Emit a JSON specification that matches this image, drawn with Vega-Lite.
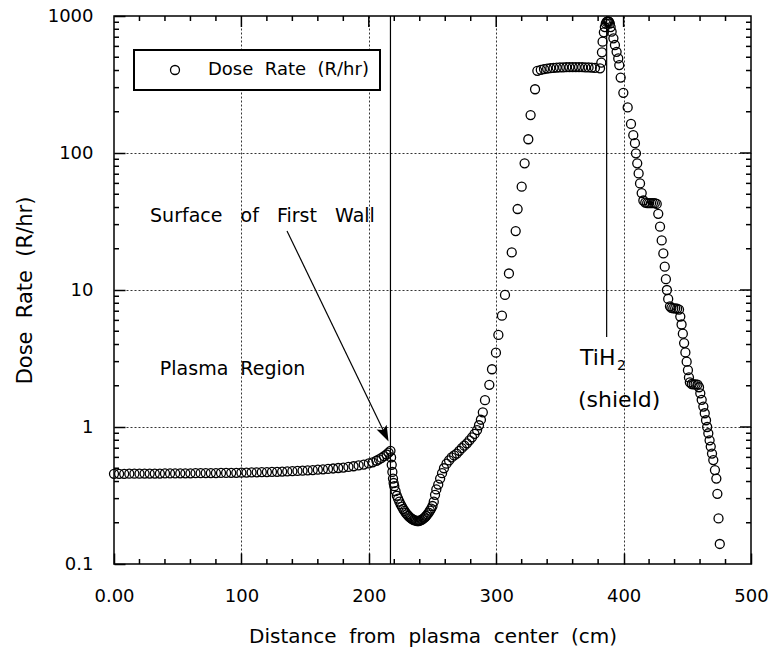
{
  "$schema": "https://vega.github.io/schema/vega-lite/v6.json",
  "width": 637,
  "height": 548,
  "autosize": {"type": "none"},
  "padding": {"left": 114, "top": 16, "right": 22, "bottom": 85},
  "background": "white",
  "datasets": {
    "points": [
      {"x":0,"y":0.455},{"x":4,"y":0.455},{"x":8,"y":0.455},{"x":12,"y":0.456},{"x":16,"y":0.456},{"x":20,"y":0.456},{"x":24,"y":0.457},{"x":28,"y":0.457},{"x":32,"y":0.457},{"x":36,"y":0.457},{"x":40,"y":0.458},{"x":44,"y":0.458},{"x":48,"y":0.458},{"x":52,"y":0.459},{"x":56,"y":0.459},{"x":60,"y":0.459},{"x":64,"y":0.46},{"x":68,"y":0.46},{"x":72,"y":0.461},{"x":76,"y":0.461},{"x":80,"y":0.461},{"x":84,"y":0.462},{"x":88,"y":0.462},{"x":92,"y":0.463},{"x":96,"y":0.463},{"x":100,"y":0.464},{"x":104,"y":0.465},{"x":108,"y":0.466},{"x":112,"y":0.467},{"x":116,"y":0.468},{"x":120,"y":0.469},{"x":124,"y":0.47},{"x":128,"y":0.471},{"x":132,"y":0.473},{"x":136,"y":0.474},{"x":140,"y":0.476},{"x":144,"y":0.478},{"x":148,"y":0.48},{"x":152,"y":0.482},{"x":156,"y":0.485},{"x":160,"y":0.488},{"x":164,"y":0.491},{"x":168,"y":0.494},{"x":172,"y":0.498},{"x":176,"y":0.502},{"x":180,"y":0.506},{"x":184,"y":0.511},{"x":188,"y":0.517},{"x":192,"y":0.524},{"x":196,"y":0.532},{"x":200,"y":0.542},{"x":203,"y":0.552},{"x":206,"y":0.567},{"x":208,"y":0.58},{"x":210,"y":0.595},{"x":212,"y":0.612},{"x":214,"y":0.63},{"x":215.5,"y":0.65},
      {"x":217,"y":0.67},{"x":217.5,"y":0.6},{"x":218,"y":0.53},{"x":218.5,"y":0.47},{"x":219,"y":0.42},{"x":219.5,"y":0.39},{"x":220,"y":0.37},{"x":221,"y":0.34},{"x":222,"y":0.315},{"x":223,"y":0.3},{"x":224,"y":0.285},{"x":225,"y":0.272},{"x":226,"y":0.262},{"x":227,"y":0.252},{"x":228,"y":0.244},{"x":229,"y":0.236},{"x":230,"y":0.23},{"x":231,"y":0.225},{"x":232,"y":0.22},{"x":233,"y":0.216},{"x":234,"y":0.213},{"x":235,"y":0.21},{"x":236,"y":0.208},{"x":237,"y":0.207},{"x":238,"y":0.206},{"x":239,"y":0.206},{"x":240,"y":0.207},{"x":241,"y":0.209},{"x":242,"y":0.212},{"x":243,"y":0.215},{"x":244,"y":0.219},{"x":245,"y":0.224},{"x":246,"y":0.23},{"x":247,"y":0.237},{"x":248,"y":0.245},{"x":249,"y":0.254},{"x":250,"y":0.265},{"x":251,"y":0.285},{"x":252,"y":0.32},{"x":253,"y":0.35},{"x":254.5,"y":0.38},{"x":256,"y":0.42},{"x":257.5,"y":0.46},{"x":259,"y":0.5},{"x":261,"y":0.54},{"x":263,"y":0.57},{"x":265,"y":0.6},{"x":267,"y":0.62},{"x":269,"y":0.64},{"x":271,"y":0.67},{"x":273,"y":0.7},{"x":275,"y":0.73},{"x":277,"y":0.76},{"x":279,"y":0.8},{"x":281,"y":0.84},{"x":283,"y":0.89},{"x":285,"y":0.95},{"x":286.5,"y":1.03},{"x":288,"y":1.13},{"x":289.5,"y":1.28},{"x":291.2,"y":1.57},{"x":294.6,"y":2.03},{"x":296.7,"y":2.64},{"x":299.8,"y":3.49},{"x":301.7,"y":4.7},{"x":304.5,"y":6.5},{"x":306.9,"y":9.2},{"x":310,"y":13.2},{"x":312.2,"y":18.8},{"x":315.3,"y":26.9},{"x":316.8,"y":39},{"x":320,"y":56.8},{"x":322.3,"y":84},{"x":325.2,"y":126},{"x":327,"y":189},{"x":330.5,"y":292},{"x":332.3,"y":398},
      {"x":335,"y":405},{"x":337.5,"y":410},{"x":340,"y":413},{"x":342.5,"y":416},{"x":345,"y":418},{"x":347.5,"y":420},{"x":350,"y":421},{"x":352.5,"y":422},{"x":355,"y":423},{"x":357.5,"y":424},{"x":360,"y":424},{"x":362.5,"y":424},{"x":365,"y":424},{"x":367.5,"y":423},{"x":370,"y":422},{"x":372.5,"y":421},{"x":375,"y":420},{"x":377.5,"y":418},{"x":381.5,"y":415},
      {"x":382.5,"y":456},{"x":383,"y":543},{"x":383.5,"y":650},{"x":384.5,"y":760},{"x":385.3,"y":830},{"x":386,"y":880},{"x":386.7,"y":905},{"x":387.4,"y":915},{"x":388,"y":915},{"x":388.6,"y":905},{"x":389.2,"y":880},{"x":389.8,"y":830},{"x":390.6,"y":769},{"x":392,"y":687},{"x":393.2,"y":614},{"x":394.5,"y":548},{"x":395.8,"y":490},{"x":396.6,"y":438},{"x":397.7,"y":355},{"x":399.8,"y":275},{"x":403.2,"y":215},{"x":405.8,"y":163},{"x":407.6,"y":135},{"x":408.9,"y":118},{"x":409.7,"y":99.5},{"x":410.7,"y":84},{"x":411.8,"y":71},{"x":412.9,"y":60},{"x":414.2,"y":51},{"x":415.5,"y":45},{"x":417,"y":43.5},{"x":418.5,"y":43},{"x":420,"y":43},{"x":421.5,"y":43},{"x":423,"y":43},{"x":424.5,"y":43},{"x":426,"y":42.5},{"x":427.2,"y":36},{"x":428.6,"y":29},{"x":429.9,"y":23},{"x":431.2,"y":18.5},{"x":432.3,"y":14.8},{"x":433.2,"y":12},{"x":434,"y":10},{"x":435,"y":8.6},{"x":436.4,"y":7.6},{"x":437.5,"y":7.4},{"x":439,"y":7.35},{"x":440.5,"y":7.35},{"x":442,"y":7.3},{"x":443.5,"y":7.2},{"x":444.5,"y":6.4},{"x":445.5,"y":5.6},{"x":446.5,"y":4.8},{"x":447.5,"y":4.1},{"x":448.5,"y":3.5},{"x":449.5,"y":3.0},{"x":450.5,"y":2.6},{"x":451.3,"y":2.3},{"x":452,"y":2.12},{"x":453.5,"y":2.06},{"x":455,"y":2.05},{"x":456.5,"y":2.05},{"x":458,"y":2.04},{"x":459.2,"y":1.95},{"x":460.2,"y":1.76},{"x":461.3,"y":1.58},{"x":462.6,"y":1.41},{"x":463.7,"y":1.26},{"x":464.7,"y":1.12},{"x":465.6,"y":1.0},{"x":466.5,"y":0.9},{"x":467.5,"y":0.8},{"x":468.4,"y":0.72},{"x":469.4,"y":0.64},{"x":470.4,"y":0.574},{"x":471.7,"y":0.485},{"x":472.8,"y":0.42},{"x":473.6,"y":0.325},{"x":474.5,"y":0.215},{"x":475.5,"y":0.14}
    ],
    "rules": [
      {"x":217,"x2":217,"y":0.1,"y2":1000},
      {"x":386.7,"x2":386.7,"y":4.54,"y2":1000},
      {"x":135.8,"x2":213.5,"y":27,"y2":0.86}
    ],
    "labels": [
      {"x":28.3,"y":34.7,"label":"Surface \u00a0\u00a0of \u00a0\u00a0First \u00a0\u00a0Wall"},
      {"x":36,"y":2.65,"label":"Plasma \u00a0Region"}
    ],
    "labels2": [
      {"x":365.8,"y":3.19,"label":"TiH"},
      {"x":364.2,"y":1.57,"label":"(shield)"}
    ],
    "sub": [{"x":394.8,"y":2.8,"label":"2"}],
    "head": [{"x":215.5,"y":0.783}],
    "xminor": [{"x":20},{"x":40},{"x":60},{"x":80},{"x":120},{"x":140},{"x":160},{"x":180},{"x":220},{"x":240},{"x":260},{"x":280},{"x":320},{"x":340},{"x":360},{"x":380},{"x":420},{"x":440},{"x":460},{"x":480}],
    "xmajor": [{"x":100},{"x":200},{"x":300},{"x":400}],
    "yminor": [{"y":0.2},{"y":0.3},{"y":0.4},{"y":0.5},{"y":0.6},{"y":0.7},{"y":0.8},{"y":0.9},{"y":2},{"y":3},{"y":4},{"y":5},{"y":6},{"y":7},{"y":8},{"y":9},{"y":20},{"y":30},{"y":40},{"y":50},{"y":60},{"y":70},{"y":80},{"y":90},{"y":200},{"y":300},{"y":400},{"y":500},{"y":600},{"y":700},{"y":800},{"y":900}],
    "ymajor": [{"y":1},{"y":10},{"y":100}]
  },
  "layer": [
    {
      "data": {"name": "points"},
      "mark": {"type": "point", "filled": false, "size": 81, "strokeWidth": 1.3, "opacity": 1},
      "encoding": {
        "x": {"field": "x", "type": "quantitative", "scale": {"domain": [0, 500], "nice": false, "zero": false},
          "axis": {"orient": "bottom", "values": [0,100,200,300,400,500], "offset": -11, "tickSize": 11,
            "labelExpr": "datum.value === 0 ? '0.00' : datum.label",
            "grid": false, "labelPadding": 23, "labelFlush": false, "labelOverlap": false,
            "title": "Distance \u00a0from \u00a0plasma \u00a0center \u00a0(cm)", "titleY": 83, "titleBaseline": "middle"}},
        "y": {"field": "y", "type": "quantitative", "scale": {"type": "log", "domain": [0.1, 1000], "nice": false},
          "axis": {"orient": "left", "values": [0.1,1,10,100,1000], "offset": -11, "tickSize": 11,
            "labelExpr": "format(datum.value, '~g')",
            "grid": false, "labelPadding": 21, "labelFlush": false, "labelOverlap": false,
            "title": "Dose \u00a0Rate \u00a0(R/hr)", "titleFontSize": 21, "titleX": -100, "titleBaseline": "middle"}},
        "color": {"datum": "Dose \u00a0Rate \u00a0(R/hr)", "type": "nominal", "scale": {"range": ["black"]},
          "legend": {"title": null, "orient": "none", "legendX": 20, "legendY": 34, "strokeColor": "black", "fillColor": "white", "padding": 11, "labelFontSize": 18, "labelFont": "DejaVu Sans", "labelColor": "black", "labelLimit": 400, "symbolSize": 81, "symbolStrokeWidth": 1.3, "symbolOffset": 21, "labelOffset": 24, "symbolType": "circle"}}
      }
    },
    {
      "data": {"name": "rules"},
      "mark": {"type": "rule", "color": "black", "strokeWidth": 1.2},
      "encoding": {
        "x": {"field": "x", "type": "quantitative", "scale": {"domain": [0, 500], "nice": false, "zero": false}, "axis": null},
        "x2": {"field": "x2"},
        "y": {"field": "y", "type": "quantitative", "scale": {"type": "log", "domain": [0.1, 1000], "nice": false}, "axis": null},
        "y2": {"field": "y2"}
      }
    },
    {
      "data": {"name": "head"},
      "mark": {"type": "point", "shape": "M0,0L-0.35,-1L0,-0.8L0.35,-1Z", "size": 1024, "angle": 334.3, "filled": true, "color": "black", "opacity": 1},
      "encoding": {
        "x": {"field": "x", "type": "quantitative", "scale": {"domain": [0, 500], "nice": false, "zero": false}, "axis": null},
        "y": {"field": "y", "type": "quantitative", "scale": {"type": "log", "domain": [0.1, 1000], "nice": false}, "axis": null}
      }
    },
    {
      "data": {"name": "labels"},
      "mark": {"type": "text", "align": "left", "baseline": "middle", "fontSize": 19, "font": "DejaVu Sans", "color": "black"},
      "encoding": {
        "x": {"field": "x", "type": "quantitative", "scale": {"domain": [0, 500], "nice": false, "zero": false}, "axis": null},
        "y": {"field": "y", "type": "quantitative", "scale": {"type": "log", "domain": [0.1, 1000], "nice": false}, "axis": null},
        "text": {"field": "label"}
      }
    },
    {
      "data": {"name": "labels2"},
      "mark": {"type": "text", "align": "left", "baseline": "middle", "fontSize": 22, "font": "DejaVu Sans", "color": "black"},
      "encoding": {
        "x": {"field": "x", "type": "quantitative", "scale": {"domain": [0, 500], "nice": false, "zero": false},
          "axis": {"orient": "bottom", "values": [100,200,300,400], "ticks": false, "labels": false, "grid": true, "title": null}},
        "y": {"field": "y", "type": "quantitative", "scale": {"type": "log", "domain": [0.1, 1000], "nice": false},
          "axis": {"orient": "left", "values": [1,10,100], "ticks": false, "labels": false, "grid": true, "title": null}},
        "text": {"field": "label"}
      }
    },
    {
      "data": {"name": "sub"},
      "mark": {"type": "text", "align": "left", "baseline": "middle", "fontSize": 14, "font": "DejaVu Sans", "color": "black"},
      "encoding": {
        "x": {"field": "x", "type": "quantitative", "scale": {"domain": [0, 500], "nice": false, "zero": false}, "axis": null},
        "y": {"field": "y", "type": "quantitative", "scale": {"type": "log", "domain": [0.1, 1000], "nice": false}, "axis": null},
        "text": {"field": "label"}
      }
    },
    {
      "data": {"name": "xminor"},
      "mark": {"type": "tick", "orient": "vertical", "size": 10, "thickness": 1.5, "color": "black", "opacity": 1, "clip": true},
      "encoding": {
        "x": {"field": "x", "type": "quantitative", "scale": {"domain": [0, 500], "nice": false, "zero": false}, "axis": null},
        "y": {"datum": 0.1, "type": "quantitative", "scale": {"type": "log", "domain": [0.1, 1000], "nice": false}, "axis": null}
      }
    },
    {
      "data": {"name": "xminor"},
      "mark": {"type": "tick", "orient": "vertical", "size": 10, "thickness": 1.5, "color": "black", "opacity": 1, "clip": true},
      "encoding": {
        "x": {"field": "x", "type": "quantitative", "scale": {"domain": [0, 500], "nice": false, "zero": false}, "axis": null},
        "y": {"datum": 1000, "type": "quantitative", "scale": {"type": "log", "domain": [0.1, 1000], "nice": false}, "axis": null}
      }
    },
    {
      "data": {"name": "xmajor"},
      "mark": {"type": "tick", "orient": "vertical", "size": 22, "thickness": 1.5, "color": "black", "opacity": 1, "clip": true},
      "encoding": {
        "x": {"field": "x", "type": "quantitative", "scale": {"domain": [0, 500], "nice": false, "zero": false}, "axis": null},
        "y": {"datum": 1000, "type": "quantitative", "scale": {"type": "log", "domain": [0.1, 1000], "nice": false}, "axis": null}
      }
    },
    {
      "data": {"name": "yminor"},
      "mark": {"type": "tick", "orient": "horizontal", "size": 10, "thickness": 1.5, "color": "black", "opacity": 1, "clip": true},
      "encoding": {
        "x": {"datum": 0, "type": "quantitative", "scale": {"domain": [0, 500], "nice": false, "zero": false}, "axis": null},
        "y": {"field": "y", "type": "quantitative", "scale": {"type": "log", "domain": [0.1, 1000], "nice": false}, "axis": null}
      }
    },
    {
      "data": {"name": "yminor"},
      "mark": {"type": "tick", "orient": "horizontal", "size": 10, "thickness": 1.5, "color": "black", "opacity": 1, "clip": true},
      "encoding": {
        "x": {"datum": 500, "type": "quantitative", "scale": {"domain": [0, 500], "nice": false, "zero": false}, "axis": null},
        "y": {"field": "y", "type": "quantitative", "scale": {"type": "log", "domain": [0.1, 1000], "nice": false}, "axis": null}
      }
    },
    {
      "data": {"name": "ymajor"},
      "mark": {"type": "tick", "orient": "horizontal", "size": 22, "thickness": 1.5, "color": "black", "opacity": 1, "clip": true},
      "encoding": {
        "x": {"datum": 500, "type": "quantitative", "scale": {"domain": [0, 500], "nice": false, "zero": false}, "axis": null},
        "y": {"field": "y", "type": "quantitative", "scale": {"type": "log", "domain": [0.1, 1000], "nice": false}, "axis": null}
      }
    }
  ],
  "resolve": {"axis": {"x": "independent", "y": "independent"}},
  "config": {
    "font": "DejaVu Sans",
    "view": {"stroke": "black", "strokeWidth": 1.5},
    "legend": {"strokeWidth": 2},
    "axis": {"labelFont": "DejaVu Sans", "labelFontSize": 18, "labelColor": "black", "titleFont": "DejaVu Sans", "titleFontSize": 20, "titleFontWeight": "normal", "titleColor": "black", "tickColor": "black", "tickWidth": 1.5, "domain": false, "gridColor": "black", "gridDash": [2, 2], "gridWidth": 0.8}
  }
}
